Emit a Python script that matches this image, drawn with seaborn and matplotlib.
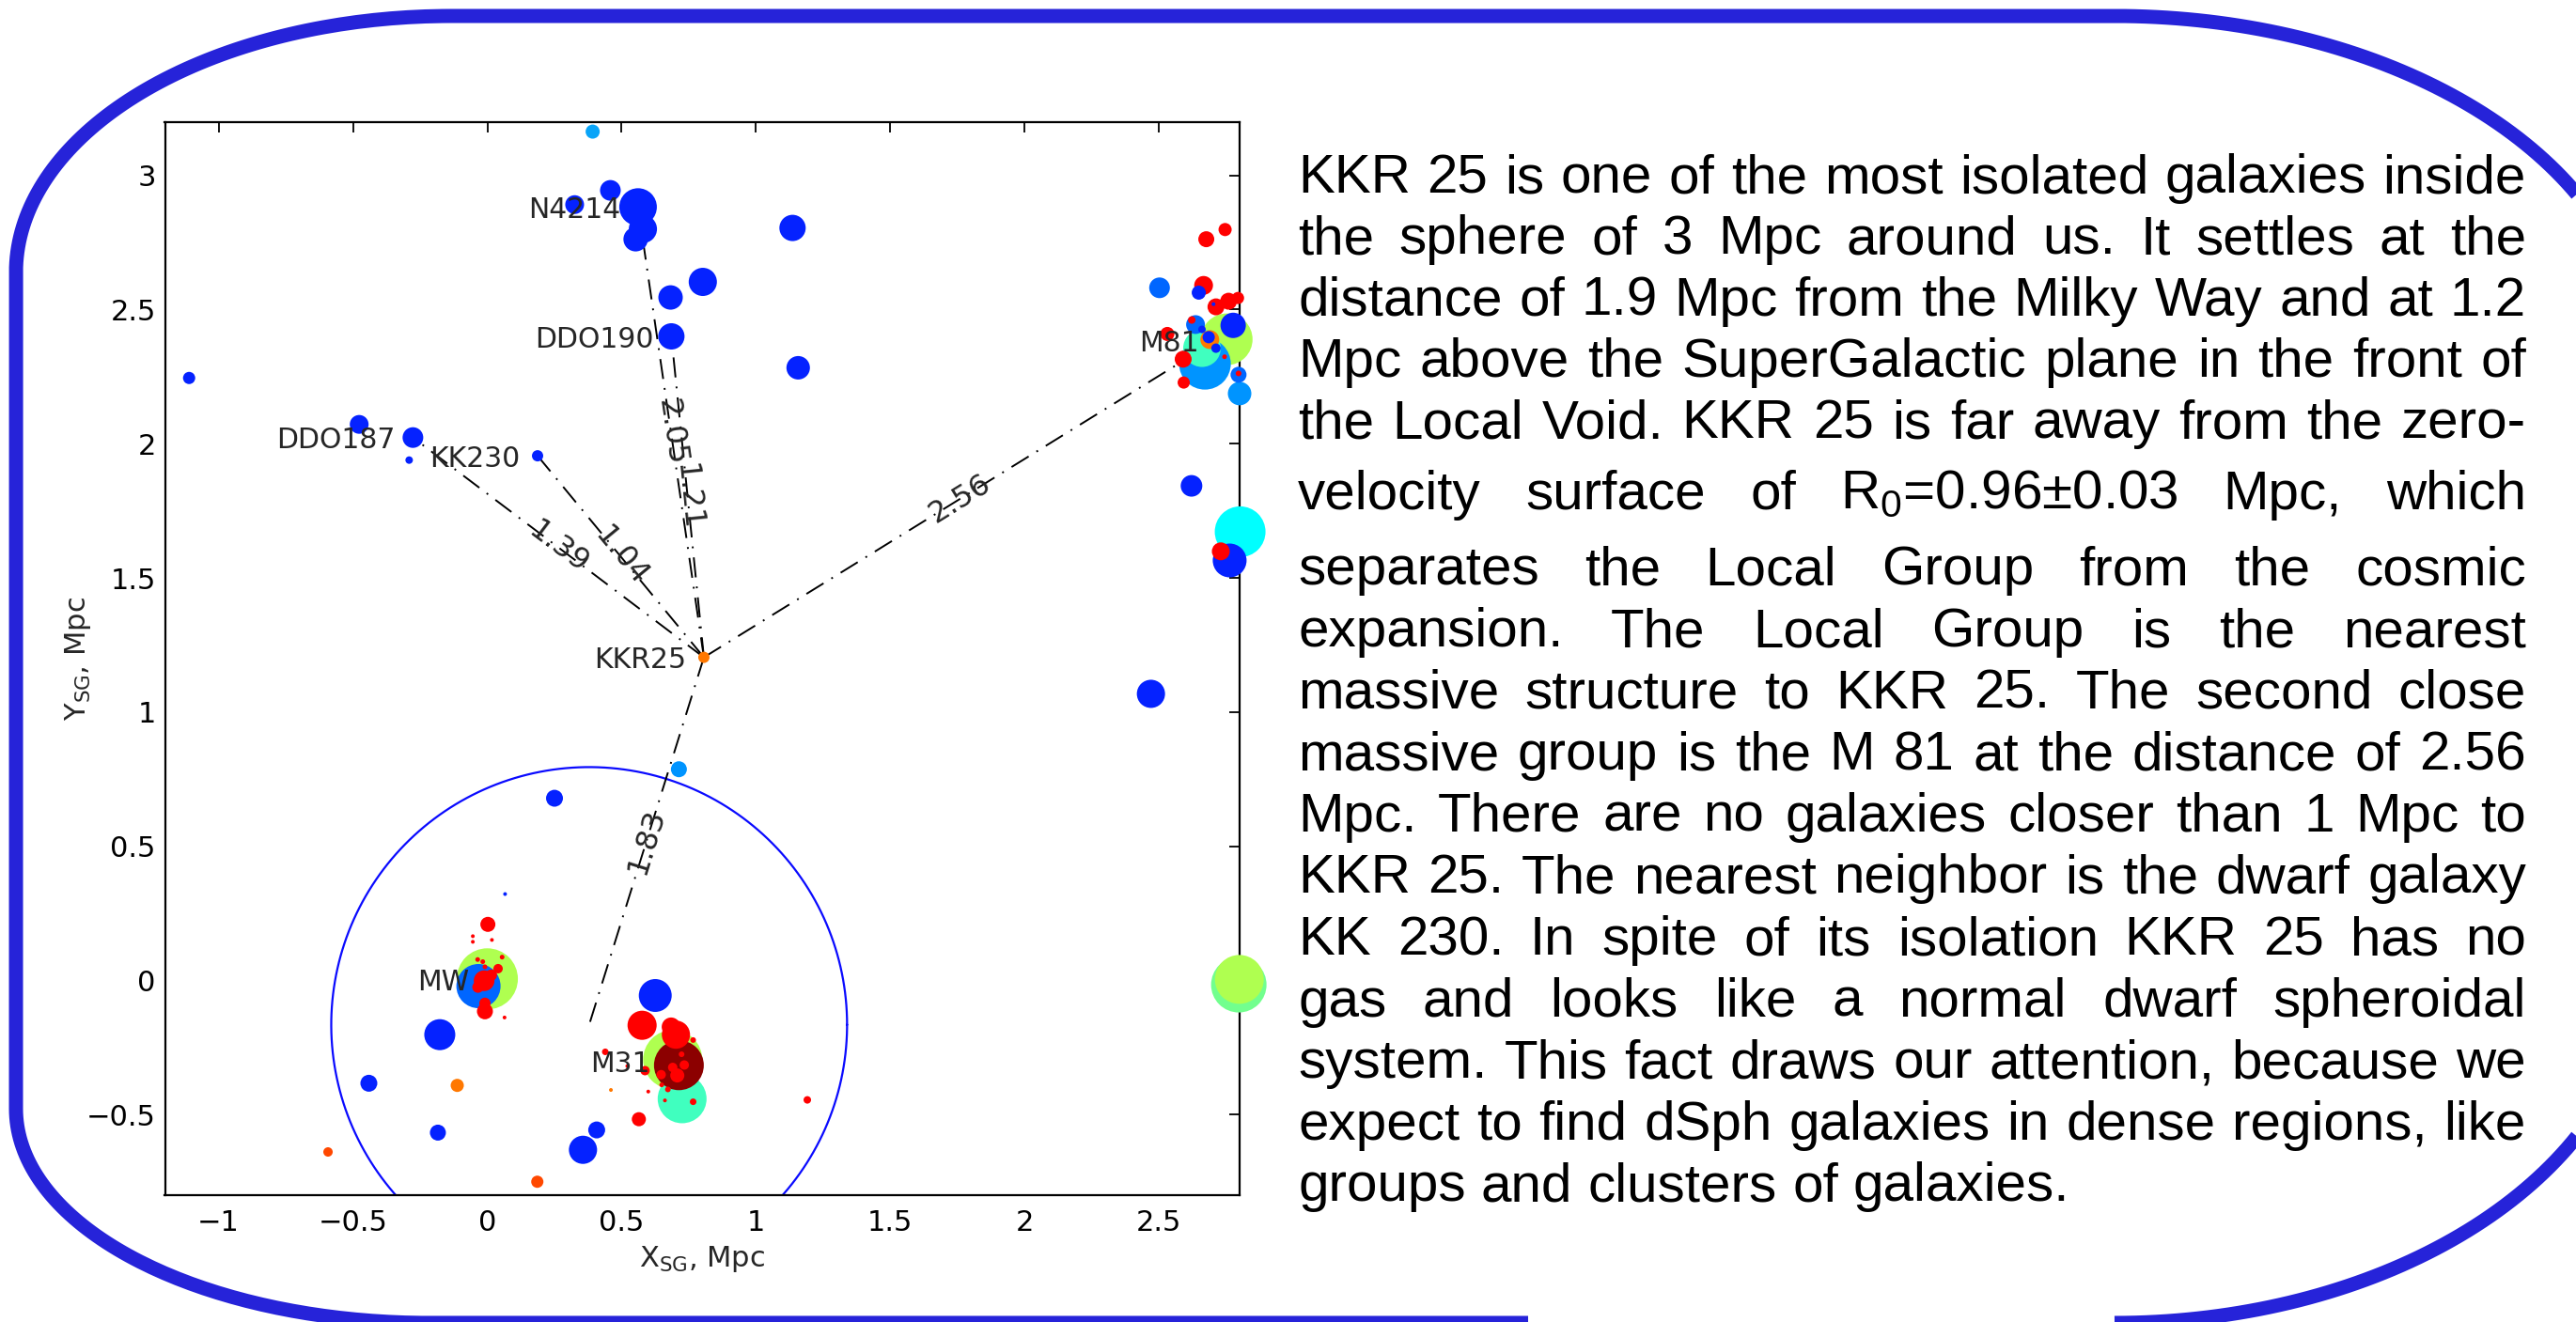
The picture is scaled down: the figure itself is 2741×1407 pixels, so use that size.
import numpy as np
import pandas as pd
import matplotlib
matplotlib.use("Agg")
import matplotlib.pyplot as plt
import seaborn as sns

DPI = 100
W, H = 2741, 1407

# ---------------------------------------------------------------------------
# Galaxies in the supergalactic plane: X_SG, Y_SG (Mpc), marker diameter (px)
# and morphological colour class.
# ---------------------------------------------------------------------------
# Local Group (MW, M31 and companions)
lg_x = [0.000, 0.690, 0.725, 0.713, -0.033, 0.625, -0.177, 0.576, 0.356, 0.702,
        -0.012, 0.684, -0.441, 0.407, 0.250, -0.009, 0.713, -0.184, 0.002, 0.564,
        0.707, -0.112, 0.186, -0.035, 0.015, -0.009, 0.040, 0.733, 0.690, 0.647,
        0.587, -0.593, 1.191, 0.766, 0.439, 0.766, 0.723, 0.672, -0.036, -0.017,
        0.055, -0.009, 0.649, -0.054, -0.054, 0.017, 0.064, 0.599, 0.661, 0.521,
        0.460, 0.066]
lg_y = [0.006, -0.295, -0.441, -0.316, -0.021, -0.056, -0.202, -0.167, -0.631, -0.202,
        -0.001, -0.173, -0.383, -0.557, 0.679, -0.115, 0.787, -0.567, 0.209, -0.517,
        -0.354, -0.391, -0.750, -0.025, 0.020, -0.085, 0.044, -0.315, -0.324, -0.351,
        -0.336, -0.639, -0.445, -0.452, -0.266, -0.222, -0.275, -0.406, 0.078, 0.070,
        0.087, 0.051, -0.389, 0.165, 0.144, 0.151, -0.138, -0.414, -0.447, -0.319,
        -0.408, 0.322]
lg_d = [65, 63, 52, 53, 47, 35, 33, 31, 30, 30,
        22, 20, 18, 18, 18, 17, 17, 17, 16, 15,
        15, 14, 13, 12, 12, 12, 10, 10, 10, 10,
        10, 10, 8, 7, 7, 6, 6, 6, 5, 5,
        5, 5, 5, 4, 4, 4, 4, 4, 4, 4,
        4, 4]
lg_t = ["lime", "lime", "aqua", "dred", "mblue", "blue", "blue", "red", "blue", "red",
        "red", "red", "blue", "blue", "blue", "red", "lblue", "blue", "red", "red",
        "red", "orange", "ored", "red", "red", "red", "red", "red", "red", "red",
        "red", "ored", "red", "red", "red", "red", "red", "red", "red", "red",
        "red", "red", "red", "red", "red", "red", "red", "red", "red", "red",
        "orange", "blue"]

# M81 group and the right-hand edge of the field
m81_x = [2.752, 2.671, 2.802, 2.797, 2.799, 2.660, 2.763, 2.470, 2.776, 2.800,
         2.621, 2.502, 2.666, 2.636, 2.689, 2.730, 2.712, 2.759, 2.590, 2.676,
         2.796, 2.648, 2.531, 2.746, 2.794, 2.592, 2.685, 2.712, 2.660, 2.622,
         2.796, 2.744, 2.703]
m81_y = [2.389, 2.298, 1.672, -0.016, 0.004, 2.356, 1.565, 1.068, 2.441, 2.187,
         1.843, 2.581, 2.590, 2.444, 2.388, 1.599, 2.510, 2.531, 2.315, 2.762,
         2.257, 2.563, 2.409, 2.798, 2.543, 2.228, 2.397, 2.356, 2.426, 2.461,
         2.262, 2.324, 2.520]
m81_d = [55, 55, 54, 59, 52, 40, 36, 30, 27, 25,
         23, 22, 20, 20, 20, 19, 18, 18, 18, 17,
         17, 15, 15, 14, 13, 13, 13, 10, 8, 8,
         6, 5, 4]
m81_t = ["lime", "lblue", "cyan", "mint", "lime", "aqua", "blue", "blue", "blue", "lblue",
         "blue", "mblue", "red", "mblue", "orange", "red", "red", "red", "red", "red",
         "mblue", "blue", "red", "red", "red", "red", "blue", "blue", "blue", "red",
         "red", "red", "blue"]

# Galaxies above the Local Group (N4214 / DDO 190 area) and KKR 25
north_x = [0.561, 0.579, 0.802, 1.136, 0.685, 0.552, 0.682, 1.157, 0.458, -0.277,
           0.325, -0.477, 0.392, -1.110, 0.187, 0.806, -0.291]
north_y = [2.882, 2.800, 2.603, 2.804, 2.400, 2.762, 2.545, 2.283, 2.944, 2.023,
           2.891, 2.072, 3.163, 2.245, 1.955, 1.204, 1.939]
north_d = [40, 30, 30, 28, 28, 26, 26, 25, 22, 22,
           20, 20, 15, 13, 12, 12, 8]
north_t = ["blue", "blue", "blue", "blue", "blue", "blue", "blue", "blue", "blue", "blue",
           "blue", "blue", "sky", "blue", "blue", "orange", "blue"]

kind_colors = {
    "blue": "#0522ff", "mblue": "#0066ff", "lblue": "#0094ff", "sky": "#08a4f8",
    "cyan": "#00ffff", "aqua": "#40ffbf", "mint": "#72ff8e", "lime": "#afff50",
    "orange": "#ff7800", "ored": "#ff4800", "red": "#ff0000", "dred": "#8c0000",
}

# Named galaxies
label_names = ["N4214", "DDO190", "DDO187", "KK230", "KKR25", "M81", "MW", "M31"]
label_x = [0.561, 0.685, -0.277, 0.187, 0.806, 2.713, 0.000, 0.673]
label_y = [2.882, 2.400, 2.023, 1.955, 1.204, 2.385, 0.002, -0.301]

# Distances (Mpc) from KKR 25 to its neighbours and to the Local Group centre
kkr25_x, kkr25_y = 0.806, 1.204
dist_x = [0.561, 0.685, -0.277, 0.187, 2.713, 0.379]
dist_y = [2.882, 2.400, 2.023, 1.955, 2.385, -0.165]
dist_text = ["2.05", "1.21", "1.39", "1.04", "2.56", "1.83"]

# Zero-velocity surface of the Local Group
lg_center_x, lg_center_y = 0.379, -0.165
r0 = 0.96

xticks = [-1, -0.5, 0, 0.5, 1, 1.5, 2, 2.5]
xtick_labels = ["\u22121", "\u22120.5", "0", "0.5", "1", "1.5", "2", "2.5"]
yticks = [-0.5, 0, 0.5, 1, 1.5, 2, 2.5, 3]
ytick_labels = ["\u22120.5", "0", "0.5", "1", "1.5", "2", "2.5", "3"]

para_lines = [
    "KKR 25 is one of the most isolated galaxies inside",
    "the sphere of 3 Mpc around us. It settles at the",
    "distance of 1.9 Mpc from the Milky Way and at 1.2",
    "Mpc above the SuperGalactic plane in the front of",
    "the Local Void. KKR 25 is far away from the zero-",
    "velocity surface of R$_0$=0.96\u00b10.03 Mpc, which",
    "separates the Local Group from the cosmic",
    "expansion. The Local Group is the nearest",
    "massive structure to KKR 25. The second close",
    "massive group is the M 81 at the distance of 2.56",
    "Mpc. There are no galaxies closer than 1 Mpc to",
    "KKR 25. The nearest neighbor is the dwarf galaxy",
    "KK 230. In spite of its isolation KKR 25 has no",
    "gas and looks like a normal dwarf spheroidal",
    "system. This fact draws our attention, because we",
    "expect to find dSph galaxies in dense regions, like",
    "groups and clusters of galaxies.",
]

# ---------------------------------------------------------------------------
sns.set_style("white")
plt.rcParams.update({
    "font.family": ["DejaVu Sans"],
    "mathtext.fontset": "custom",
    "mathtext.default": "regular",
    "axes.unicode_minus": True,
})

gal = pd.DataFrame({
    "x": lg_x + m81_x + north_x,
    "y": lg_y + m81_y + north_y,
    "diam": lg_d + m81_d + north_d,
    "kind": lg_t + m81_t + north_t,
})
gal["area"] = (gal["diam"] * 72.0 / DPI) ** 2
amin, amax = gal["area"].min(), gal["area"].max()

fig = plt.figure(figsize=(W / DPI, H / DPI), dpi=DPI, facecolor="white")

# full-figure layer in pixel units for the slide frame and the paragraph
bg = fig.add_axes([0, 0, 1, 1], zorder=0)
bg.set_xlim(0, W)
bg.set_ylim(H, 0)
bg.axis("off")


def arc(cx, cy, rx, ry, t0, t1, n=80):
    t = np.radians(np.linspace(t0, t1, n))
    return np.column_stack([cx + rx * np.cos(t), cy + ry * np.sin(t)])


frame = np.vstack([
    [[1626, 1408]],
    arc(457, 1180, 440, 228, 90, 180),
    arc(480, 290, 463, 273, 180, 270),
    arc(2250, 380, 560, 363, 270, 360),
    arc(2250, 1028, 560, 380, 0, 90),
])
bg.plot(frame[:, 0], frame[:, 1], color="#2623d9", lw=10.8,
        solid_capstyle="butt", solid_joinstyle="round")

# main chart
ax = fig.add_axes([175.5 / W, 1 - 1272 / H, 1143.5 / W, 1142.5 / H], zorder=1)
ax.set_facecolor("white")

th = np.linspace(0, 2 * np.pi, 500)
ax.plot(lg_center_x + r0 * np.cos(th), lg_center_y + r0 * np.sin(th),
        color="#0a0aff", lw=1.6, zorder=2)

for tx, ty, lab in zip(dist_x, dist_y, dist_text):
    ax.plot([kkr25_x, tx], [kkr25_y, ty], color="black", lw=1.4,
            ls=(0, (11, 5, 1, 5)), zorder=2)
    ang = np.degrees(np.arctan((ty - kkr25_y) / (tx - kkr25_x)))
    ax.text((kkr25_x + tx) / 2, (kkr25_y + ty) / 2, lab, rotation=ang,
            rotation_mode="anchor", ha="center", va="center", fontsize=23,
            zorder=5)

sns.scatterplot(data=gal, x="x", y="y", hue="kind", palette=kind_colors,
                size="area", sizes=(amin, amax), size_norm=(amin, amax),
                linewidth=0, legend=False, ax=ax, clip_on=False, zorder=3)

for name, gx, gy in zip(label_names, label_x, label_y):
    ax.text(gx - 0.066, gy, name, ha="right", va="center_baseline",
            fontsize=21.5, zorder=6)

ax.set_xlim(-1.2, 2.8)
ax.set_ylim(-0.8, 3.2)
ax.set_xticks(xticks)
ax.set_xticklabels(xtick_labels)
ax.set_yticks(yticks)
ax.set_yticklabels(ytick_labels)
ax.tick_params(axis="both", direction="in", length=8, width=1.3,
               top=True, right=True, labelsize=22, colors="black")
ax.tick_params(axis="x", pad=11)
ax.tick_params(axis="y", pad=7)
for sp in ax.spines.values():
    sp.set_linewidth(1.6)
    sp.set_color("black")

ax.set_xlabel(r"X$_{SG}$, Mpc", fontsize=22)
ax.set_ylabel(r"Y$_{SG}$, Mpc", fontsize=22)
ax.xaxis.set_label_coords(0.5, (1272 - 1324) / 1142.5)
ax.yaxis.set_label_coords((99 - 175.5) / 1143.5, 0.5)

# justified paragraph on the right
renderer = fig.canvas.get_renderer()
left, right = 1381.0, 2688.0
baselines = [205 + 65.3 * i for i in range(5)] + [541.5] + \
            [622.5 + 65.6 * k for k in range(11)]
pfont = dict(fontsize=42, family=["Liberation Sans", "DejaVu Sans"],
             va="baseline", ha="left", color="black")
probe_a = bg.text(0, 0, "x x", **pfont)
probe_b = bg.text(0, 0, "xx", **pfont)
space_w = (probe_a.get_window_extent(renderer).width
           - probe_b.get_window_extent(renderer).width)
probe_a.remove()
probe_b.remove()

for i, (line, yb) in enumerate(zip(para_lines, baselines)):
    words = line.split(" ")
    objs = [bg.text(0, yb, w, **pfont) for w in words]
    widths = [o.get_window_extent(renderer).width for o in objs]
    if i == len(para_lines) - 1 or len(words) == 1:
        gap = space_w
    else:
        gap = (right - left - sum(widths)) / (len(words) - 1)
    xpos = left
    for o, wd in zip(objs, widths):
        o.set_x(xpos)
        xpos += wd + gap

fig.savefig("out.png", dpi=DPI, facecolor="white")
